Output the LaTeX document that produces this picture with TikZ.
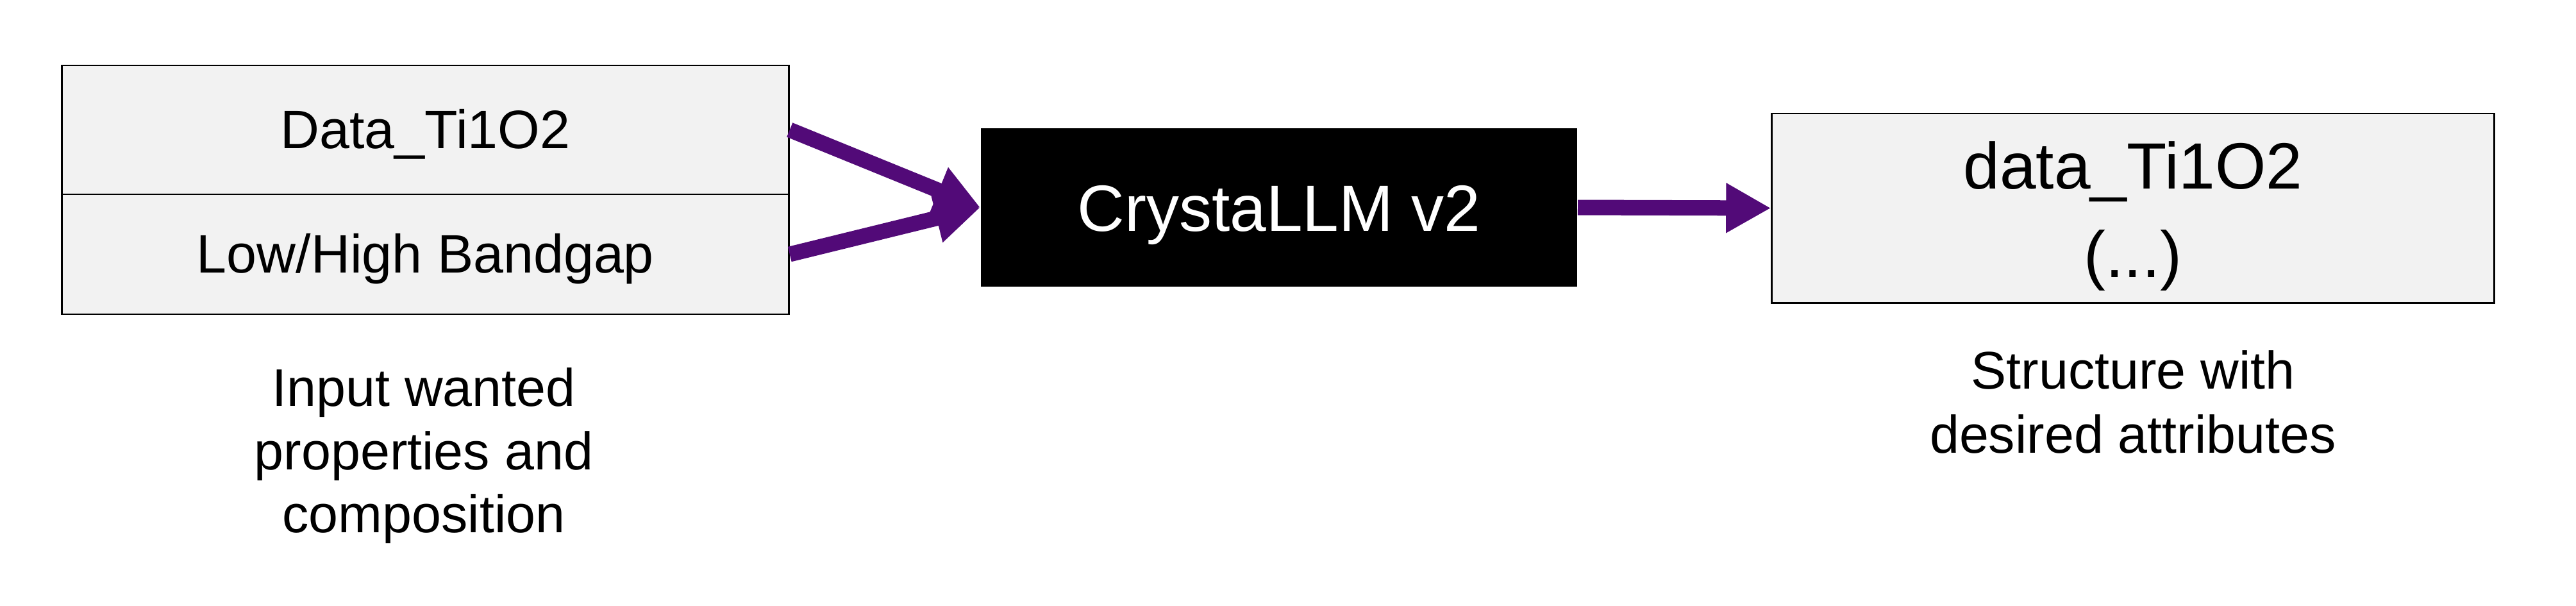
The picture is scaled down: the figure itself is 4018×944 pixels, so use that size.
\documentclass[tikz,border=0pt]{standalone}
\usepackage{fontspec}
\setmainfont{Liberation Sans}
\usetikzlibrary{arrows.meta}
\definecolor{arrowpurple}{HTML}{520A78}
\definecolor{cellgray}{HTML}{F2F2F2}
\tikzset{
  cell/.style={draw=black, line width=0.8pt, fill=cellgray, inner sep=0pt, align=center},
  bigarrow/.style={draw=arrowpurple, line width=0.24cm, -{Triangle[length=0.70cm, width=0.73cm]}, fill=arrowpurple},
  label/.style={align=center, inner sep=0pt}
}
\begin{document}
\begin{tikzpicture}[x=0.01cm, y=-0.01cm]
\useasboundingbox (0,0) rectangle (4018,944);
\node[cell, minimum width=11.33cm, minimum height=2.01cm, text height=16.6pt, text depth=0pt, font=\fontsize{24}{29}\selectfont] (top) at (663.5,202.5) {Data\_Ti1O2};
\node[cell, minimum width=11.33cm, minimum height=1.87cm, text height=16.4pt, text depth=0pt, font=\fontsize{24}{29}\selectfont] (bot) at (663.5,396.5) {Low/High Bandgap};
\node[fill=black, text=white, minimum width=9.3cm, minimum height=2.47cm, inner sep=0pt, text height=20.8pt, text depth=0pt, font=\fontsize{29}{35}\selectfont] (llm) at (1995,323.5) {CrystaLLM v2};
\node[cell, minimum width=11.26cm, minimum height=2.95cm] (out) at (3327,324.5) {};
\node[label, font=\fontsize{29}{39.2}\selectfont] (outtext) at (3327,337.5) {data\_Ti1O2\\(...)};
\node[label, font=\fontsize{23.5}{28}\selectfont] (inlab) at (661,711) {Input wanted\\properties and\\composition};
\node[label, font=\fontsize{23.5}{28.5}\selectfont] (outlab) at (3327,627) {Structure with\\desired attributes};
\draw[bigarrow] (top.east) -- (llm.west);
\draw[bigarrow] (bot.east) -- (llm.west);
\draw[bigarrow] (llm.east) -- (out.west);
\end{tikzpicture}
\end{document}
